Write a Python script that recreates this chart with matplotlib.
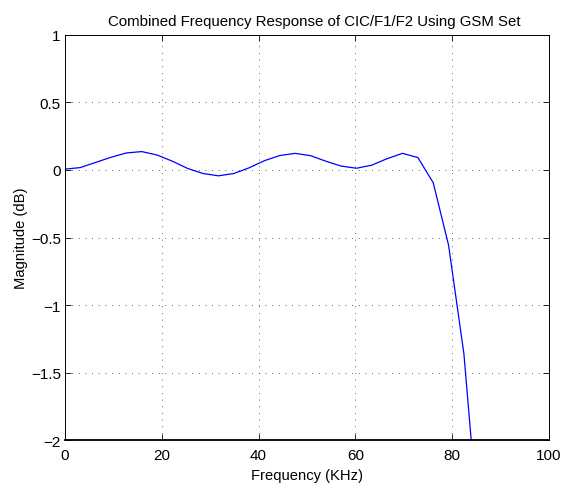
import numpy as np
import matplotlib
matplotlib.use('Agg')
import matplotlib.pyplot as plt

# frecuencia (KHz) y magnitud (dB)
freq_khz = [0.0, 3.17, 6.34, 9.51, 12.68, 15.85, 19.02, 22.19, 25.36, 28.53,
            31.70, 34.87, 38.04, 41.21, 44.38, 47.55, 50.72, 53.89, 57.06,
            60.23, 63.40, 66.57, 69.74, 72.91, 76.08, 79.25, 82.42, 85.59]
mag_db = [0.005, 0.017, 0.055, 0.093, 0.125, 0.135, 0.110, 0.064, 0.010, -0.027,
          -0.044, -0.027, 0.015, 0.068, 0.106, 0.122, 0.105, 0.064, 0.028,
          0.012, 0.035, 0.083, 0.122, 0.091, -0.095, -0.556, -1.360, -2.700]

xticks = [0, 20, 40, 60, 80, 100]
yticks = [-2, -1.5, -1, -0.5, 0, 0.5, 1]

plt.rcParams['font.family'] = ['Liberation Sans', 'DejaVu Sans']

fig = plt.figure(figsize=(5.64, 4.85), dpi=100)
ax = fig.add_axes([0.1152, 0.0897, 0.8582, 0.837])

ax.plot(freq_khz, mag_db, color='#0000ff', linewidth=0.9)

ax.set_xlim(0, 100)
ax.set_ylim(-2, 1)
ax.set_xticks(xticks)
ax.set_yticks(yticks)
ax.set_yticklabels(['\u22122', '\u22121.5', '\u22121', '\u22120.5', '0', '0.5', '1'])
ax.grid(True, linestyle=(0, (1, 7)), color='#333333', linewidth=0.6)
ax.tick_params(direction='in', top=True, right=True, length=4, width=0.6,
               labelsize=11)
ax.tick_params(axis='x', pad=5.5)
ax.tick_params(axis='y', pad=3)

for s in ax.spines.values():
    s.set_linewidth(0.7)
ax.spines['bottom'].set_linewidth(1.3)

ax.set_title('Combined Frequency Response of CIC/F1/F2 Using GSM Set',
             fontsize=10.8, pad=7, x=0.515)
ax.set_xlabel('Frequency (KHz)', fontsize=10.6, labelpad=4)
ax.set_ylabel('Magnitude (dB)', fontsize=10.6, labelpad=2)

plt.savefig('out.png', dpi=100)
plt.close(fig)
